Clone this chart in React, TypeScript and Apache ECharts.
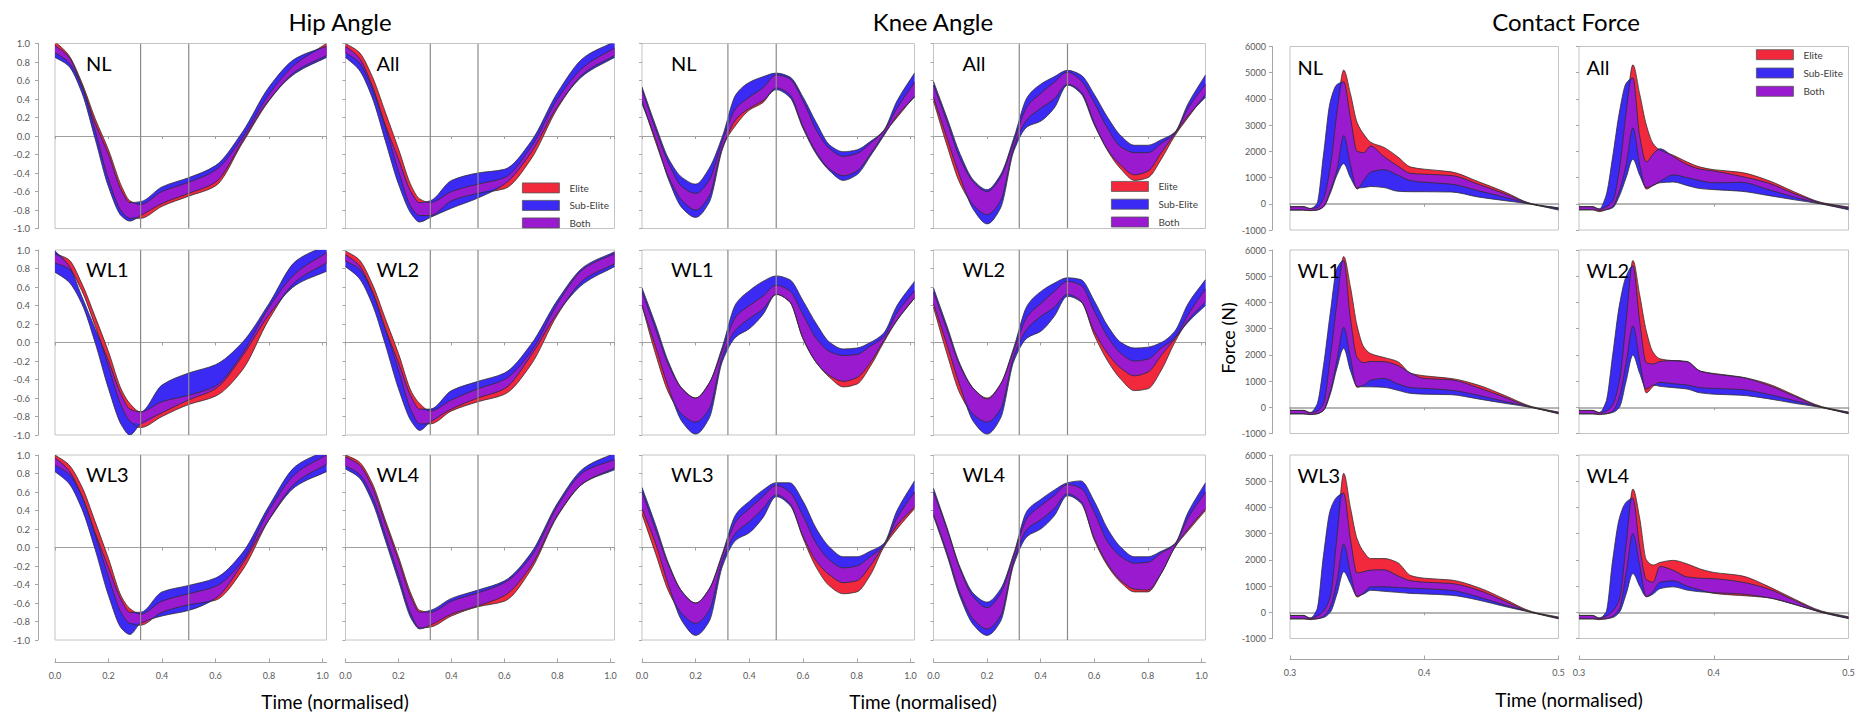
import React, { useEffect, useRef } from 'react';
import * as echarts from 'echarts';

// ---------- x grids ----------
const hipX = [0, 0.05, 0.1, 0.15, 0.2, 0.25, 0.28, 0.32, 0.4, 0.5, 0.6, 0.7, 0.8, 0.9, 1.015];
const kneeX = [0, 0.05, 0.1, 0.15, 0.2, 0.25, 0.3, 0.35, 0.4, 0.45, 0.5, 0.55, 0.6, 0.65, 0.7, 0.75, 0.8, 0.85, 0.9, 0.95, 1.015];
const forceX = [0.3, 0.31, 0.315, 0.32, 0.325, 0.33, 0.335, 0.34, 0.345, 0.35, 0.355, 0.36, 0.37, 0.38, 0.39, 0.4, 0.42, 0.44, 0.46, 0.48, 0.5];
const eventLines = [0.32, 0.5];
const legendNames = ['Elite', 'Sub-Elite', 'Both'];
const panelLabels = ['NL', 'All', 'WL1', 'WL2', 'WL3', 'WL4'];
const groupTitles = ['Hip Angle', 'Knee Angle', 'Contact Force'];

// ---------- Hip angle ----------
const hipNL_eHi = [1.02, 0.88, 0.58, 0.19, -0.15, -0.55, -0.70, -0.74, -0.60, -0.50, -0.37, -0.02, 0.45, 0.78, 1.0];
const hipNL_eLo = [0.90, 0.80, 0.54, 0.06, -0.47, -0.82, -0.89, -0.89, -0.76, -0.65, -0.54, -0.08, 0.38, 0.70, 0.87];
const hipNL_sHi = [0.98, 0.86, 0.55, 0.14, -0.20, -0.60, -0.72, -0.71, -0.55, -0.45, -0.32, 0.04, 0.53, 0.84, 0.97];
const hipNL_sLo = [0.85, 0.76, 0.47, -0.03, -0.55, -0.87, -0.92, -0.86, -0.73, -0.62, -0.50, -0.06, 0.39, 0.68, 0.85];

const hipAll_eHi = [1.00, 0.91, 0.65, 0.26, -0.14, -0.55, -0.68, -0.72, -0.60, -0.52, -0.45, -0.12, 0.40, 0.75, 0.95];
const hipAll_eLo = [0.90, 0.80, 0.52, 0.10, -0.38, -0.78, -0.86, -0.86, -0.70, -0.62, -0.57, -0.25, 0.30, 0.68, 0.87];
const hipAll_sHi = [0.97, 0.85, 0.55, 0.12, -0.25, -0.62, -0.72, -0.70, -0.48, -0.40, -0.36, -0.06, 0.47, 0.85, 1.02];
const hipAll_sLo = [0.85, 0.72, 0.42, -0.05, -0.52, -0.85, -0.93, -0.88, -0.78, -0.67, -0.52, -0.18, 0.32, 0.66, 0.85];

const hipWL1_eHi = [0.96, 0.90, 0.64, 0.28, -0.10, -0.52, -0.66, -0.75, -0.64, -0.57, -0.47, -0.12, 0.38, 0.75, 0.97];
const hipWL1_eLo = [0.86, 0.80, 0.56, 0.18, -0.26, -0.70, -0.85, -0.92, -0.80, -0.67, -0.58, -0.30, 0.25, 0.66, 0.86];
const hipWL1_sHi = [0.99, 0.84, 0.50, 0.15, -0.20, -0.58, -0.72, -0.75, -0.46, -0.33, -0.24, 0.00, 0.42, 0.88, 1.05];
const hipWL1_sLo = [0.76, 0.66, 0.42, 0.00, -0.50, -0.90, -1.00, -0.88, -0.76, -0.62, -0.50, -0.15, 0.30, 0.62, 0.77];

const hipWL2_eHi = [0.99, 0.90, 0.64, 0.26, -0.12, -0.54, -0.66, -0.74, -0.62, -0.50, -0.40, -0.10, 0.42, 0.80, 0.96];
const hipWL2_eLo = [0.88, 0.80, 0.55, 0.15, -0.30, -0.75, -0.88, -0.88, -0.74, -0.64, -0.56, -0.24, 0.30, 0.68, 0.85];
const hipWL2_sHi = [0.95, 0.84, 0.56, 0.15, -0.22, -0.60, -0.72, -0.72, -0.52, -0.42, -0.33, -0.02, 0.46, 0.82, 0.98];
const hipWL2_sLo = [0.82, 0.70, 0.42, -0.02, -0.50, -0.86, -0.95, -0.86, -0.72, -0.60, -0.50, -0.14, 0.32, 0.64, 0.82];

const hipWL3_eHi = [1.00, 0.90, 0.66, 0.28, -0.12, -0.54, -0.66, -0.72, -0.58, -0.50, -0.42, -0.15, 0.40, 0.80, 1.00];
const hipWL3_eLo = [0.89, 0.80, 0.56, 0.14, -0.32, -0.72, -0.82, -0.84, -0.70, -0.62, -0.57, -0.25, 0.30, 0.70, 0.90];
const hipWL3_sHi = [0.97, 0.84, 0.56, 0.16, -0.22, -0.58, -0.70, -0.70, -0.48, -0.41, -0.33, -0.06, 0.45, 0.88, 1.05];
const hipWL3_sLo = [0.82, 0.70, 0.42, -0.02, -0.52, -0.88, -0.94, -0.82, -0.74, -0.68, -0.55, -0.18, 0.30, 0.66, 0.82];

const hipWL4_eHi = [1.00, 0.93, 0.70, 0.30, -0.10, -0.52, -0.68, -0.70, -0.58, -0.49, -0.38, -0.10, 0.45, 0.82, 0.95];
const hipWL4_eLo = [0.88, 0.80, 0.56, 0.14, -0.30, -0.74, -0.87, -0.86, -0.74, -0.64, -0.58, -0.24, 0.34, 0.70, 0.86];
const hipWL4_sHi = [0.98, 0.90, 0.66, 0.26, -0.14, -0.56, -0.70, -0.68, -0.55, -0.46, -0.36, -0.06, 0.48, 0.86, 1.02];
const hipWL4_sLo = [0.85, 0.76, 0.50, 0.08, -0.36, -0.78, -0.88, -0.84, -0.72, -0.63, -0.52, -0.20, 0.35, 0.70, 0.84];

// ---------- Knee angle ----------
const kneeNL_eHi = [0.50, 0.08, -0.30, -0.55, -0.62, -0.48, -0.05, 0.30, 0.42, 0.52, 0.66, 0.62, 0.38, 0.06, -0.14, -0.22, -0.19, -0.08, 0.05, 0.30, 0.58];
const kneeNL_eLo = [0.38, -0.06, -0.45, -0.70, -0.80, -0.65, -0.12, 0.12, 0.28, 0.36, 0.52, 0.45, 0.10, -0.18, -0.36, -0.43, -0.38, -0.20, 0.02, 0.20, 0.43];
const kneeNL_sHi = [0.53, 0.12, -0.25, -0.45, -0.52, -0.35, 0.00, 0.45, 0.58, 0.64, 0.68, 0.64, 0.42, 0.14, -0.10, -0.17, -0.15, -0.06, 0.06, 0.38, 0.68];
const kneeNL_sLo = [0.35, -0.03, -0.48, -0.78, -0.88, -0.72, -0.14, 0.18, 0.30, 0.38, 0.50, 0.42, 0.08, -0.20, -0.38, -0.48, -0.42, -0.22, 0.00, 0.22, 0.42];

const kneeAll_eHi = [0.55, 0.16, -0.25, -0.50, -0.60, -0.45, -0.06, 0.32, 0.46, 0.58, 0.69, 0.60, 0.36, 0.08, -0.12, -0.18, -0.18, -0.08, 0.03, 0.30, 0.56];
const kneeAll_eLo = [0.38, -0.10, -0.52, -0.75, -0.85, -0.70, -0.12, 0.18, 0.30, 0.40, 0.56, 0.48, 0.14, -0.16, -0.36, -0.48, -0.45, -0.25, 0.00, 0.20, 0.45];
const kneeAll_sHi = [0.59, 0.20, -0.20, -0.48, -0.58, -0.42, -0.02, 0.42, 0.56, 0.64, 0.71, 0.66, 0.45, 0.20, 0.00, -0.10, -0.10, -0.04, 0.04, 0.35, 0.66];
const kneeAll_sLo = [0.42, -0.02, -0.45, -0.80, -0.95, -0.78, -0.16, 0.10, 0.16, 0.30, 0.55, 0.46, 0.12, -0.15, -0.32, -0.42, -0.38, -0.18, 0.02, 0.22, 0.42];

const kneeWL1_eHi = [0.55, 0.15, -0.25, -0.50, -0.60, -0.44, -0.08, 0.28, 0.40, 0.50, 0.62, 0.56, 0.30, 0.04, -0.10, -0.14, -0.13, -0.04, 0.06, 0.32, 0.56];
const kneeWL1_eLo = [0.40, -0.12, -0.55, -0.78, -0.86, -0.72, -0.15, 0.14, 0.26, 0.36, 0.52, 0.44, 0.04, -0.22, -0.38, -0.48, -0.45, -0.26, 0.00, 0.24, 0.48];
const kneeWL1_sHi = [0.59, 0.20, -0.22, -0.50, -0.60, -0.44, -0.04, 0.42, 0.56, 0.66, 0.72, 0.68, 0.45, 0.20, 0.00, -0.07, -0.06, 0.00, 0.10, 0.40, 0.66];
const kneeWL1_sLo = [0.40, -0.04, -0.50, -0.86, -0.99, -0.82, -0.20, 0.06, 0.15, 0.30, 0.52, 0.44, 0.04, -0.22, -0.36, -0.42, -0.38, -0.22, 0.02, 0.24, 0.48];

const kneeWL2_eHi = [0.55, 0.14, -0.26, -0.50, -0.60, -0.45, -0.08, 0.28, 0.42, 0.55, 0.66, 0.62, 0.34, 0.06, -0.12, -0.20, -0.18, -0.06, 0.05, 0.30, 0.58];
const kneeWL2_eLo = [0.38, -0.12, -0.56, -0.78, -0.86, -0.72, -0.15, 0.15, 0.28, 0.38, 0.52, 0.45, 0.08, -0.20, -0.40, -0.52, -0.50, -0.30, 0.00, 0.24, 0.44];
const kneeWL2_sHi = [0.59, 0.18, -0.24, -0.50, -0.61, -0.45, -0.05, 0.40, 0.55, 0.64, 0.70, 0.68, 0.45, 0.18, 0.00, -0.06, -0.05, 0.00, 0.12, 0.42, 0.68];
const kneeWL2_sLo = [0.42, -0.02, -0.48, -0.86, -0.99, -0.82, -0.20, 0.05, 0.12, 0.28, 0.50, 0.44, 0.12, -0.12, -0.28, -0.36, -0.32, -0.14, 0.04, 0.22, 0.40];

const kneeWL3_eHi = [0.60, 0.20, -0.20, -0.48, -0.60, -0.45, -0.08, 0.28, 0.42, 0.55, 0.67, 0.60, 0.34, 0.04, -0.14, -0.22, -0.20, -0.10, 0.02, 0.32, 0.60];
const kneeWL3_eLo = [0.36, -0.06, -0.48, -0.72, -0.82, -0.68, -0.14, 0.16, 0.28, 0.42, 0.57, 0.48, 0.10, -0.22, -0.42, -0.50, -0.48, -0.30, 0.00, 0.20, 0.42];
const kneeWL3_sHi = [0.65, 0.25, -0.18, -0.48, -0.60, -0.45, -0.06, 0.36, 0.50, 0.62, 0.70, 0.70, 0.50, 0.20, 0.00, -0.10, -0.10, -0.04, 0.04, 0.40, 0.72];
const kneeWL3_sLo = [0.42, 0.05, -0.42, -0.80, -0.95, -0.80, -0.20, 0.08, 0.16, 0.32, 0.55, 0.46, 0.12, -0.15, -0.30, -0.38, -0.36, -0.20, 0.02, 0.24, 0.44];

const kneeWL4_eHi = [0.60, 0.20, -0.24, -0.54, -0.65, -0.50, -0.08, 0.32, 0.45, 0.56, 0.68, 0.64, 0.38, 0.06, -0.10, -0.17, -0.16, -0.06, 0.03, 0.32, 0.60];
const kneeWL4_eLo = [0.36, -0.05, -0.50, -0.78, -0.88, -0.74, -0.14, 0.20, 0.30, 0.42, 0.58, 0.50, 0.08, -0.20, -0.38, -0.48, -0.48, -0.28, 0.00, 0.18, 0.40];
const kneeWL4_sHi = [0.64, 0.22, -0.22, -0.50, -0.59, -0.45, -0.06, 0.40, 0.52, 0.62, 0.70, 0.72, 0.50, 0.20, 0.00, -0.10, -0.10, -0.04, 0.04, 0.38, 0.70];
const kneeWL4_sLo = [0.34, -0.08, -0.54, -0.84, -0.95, -0.80, -0.18, 0.12, 0.20, 0.34, 0.56, 0.48, 0.10, -0.18, -0.36, -0.45, -0.46, -0.28, 0.00, 0.20, 0.42];

// ---------- Contact force (N) ----------
const forceNL_eHi = [-110, -110, -180, -150, 200, 1400, 3500, 5100, 4200, 3100, 2650, 2350, 2150, 1800, 1400, 1320, 1220, 850, 450, 0, -170];
const forceNL_eLo = [-240, -240, -260, -240, -100, 500, 1300, 2600, 1500, 560, 900, 1200, 1300, 1100, 880, 820, 750, 500, 250, -20, -200];
const forceNL_sHi = [-110, -110, -180, 0, 1900, 3900, 4550, 4650, 3300, 2000, 1950, 2200, 1800, 1450, 1160, 1130, 1080, 750, 380, 0, -150];
const forceNL_sLo = [-240, -240, -260, -240, -120, 400, 1100, 1530, 1000, 600, 620, 660, 620, 480, 460, 460, 450, 260, 120, -20, -240];

const forceAll_eHi = [-110, -110, -200, -120, 100, 1300, 3500, 5300, 4200, 3000, 2300, 2050, 1850, 1600, 1400, 1300, 1200, 900, 450, 50, -120];
const forceAll_eLo = [-230, -230, -300, -230, -100, 500, 1500, 2900, 1500, 560, 700, 850, 1100, 1000, 880, 800, 820, 550, 250, 0, -200];
const forceAll_sHi = [-110, -110, -200, 300, 1800, 3500, 4600, 4800, 2600, 1600, 1900, 2100, 1800, 1500, 1320, 1250, 1050, 800, 380, 30, -150];
const forceAll_sLo = [-230, -230, -250, -230, -150, 300, 1000, 1700, 1100, 620, 700, 800, 830, 700, 580, 540, 480, 320, 150, -10, -230];

const forceWL1_eHi = [-120, -120, -200, -150, 150, 1900, 4000, 5750, 4600, 3100, 2300, 2050, 1900, 1750, 1300, 1200, 1100, 850, 450, 30, -180];
const forceWL1_eLo = [-250, -250, -280, -250, -100, 600, 1800, 3050, 1900, 760, 850, 1030, 1100, 900, 750, 720, 650, 460, 220, 0, -230];
const forceWL1_sHi = [-120, -120, -200, 100, 1600, 3600, 5300, 5600, 3400, 1900, 1700, 1750, 1740, 1600, 1300, 1100, 1050, 750, 380, 0, -200];
const forceWL1_sLo = [-250, -250, -270, -250, -120, 500, 1500, 2250, 1400, 800, 780, 780, 760, 650, 530, 500, 480, 320, 150, -10, -250];

const forceWL2_eHi = [-120, -120, -200, -150, 100, 1000, 3300, 5600, 4300, 2900, 2100, 1850, 1780, 1750, 1380, 1290, 1160, 900, 460, 30, -180];
const forceWL2_eLo = [-250, -250, -280, -250, -150, 400, 1700, 3100, 1800, 550, 800, 950, 900, 850, 750, 720, 680, 500, 250, 0, -230];
const forceWL2_sHi = [-120, -120, -200, 200, 2000, 3900, 5000, 5400, 3300, 1700, 1650, 1750, 1780, 1740, 1380, 1270, 1150, 850, 420, 0, -200];
const forceWL2_sLo = [-250, -250, -260, -250, -200, 0, 1000, 1990, 1300, 700, 850, 800, 750, 700, 550, 500, 460, 330, 150, -10, -250];

const forceWL3_eHi = [-120, -120, -220, -150, 50, 600, 2900, 5300, 4000, 2800, 2300, 2050, 2050, 1900, 1400, 1300, 1230, 950, 500, 30, -180];
const forceWL3_eLo = [-250, -250, -280, -250, -150, 200, 1200, 2600, 1500, 580, 750, 970, 970, 950, 920, 900, 840, 590, 280, 0, -230];
const forceWL3_sHi = [-120, -120, -220, 100, 2200, 3900, 4400, 4540, 2800, 1500, 1550, 1610, 1620, 1400, 1200, 1150, 1100, 850, 420, 0, -200];
const forceWL3_sLo = [-250, -250, -260, -250, -200, 0, 700, 1550, 1100, 620, 700, 840, 800, 760, 720, 700, 650, 470, 220, -10, -250];

const forceWL4_eHi = [-120, -120, -220, -150, 50, 500, 2600, 4700, 3600, 2000, 1800, 1900, 1980, 1850, 1650, 1520, 1400, 1000, 500, 50, -170];
const forceWL4_eLo = [-250, -250, -280, -250, -150, 150, 1500, 3000, 1800, 600, 800, 1150, 1200, 1000, 850, 720, 640, 560, 300, 0, -230];
const forceWL4_sHi = [-120, -120, -220, 0, 2000, 3600, 4200, 4350, 2500, 1250, 1150, 1750, 1600, 1350, 1300, 1280, 1160, 900, 450, 20, -190];
const forceWL4_sLo = [-250, -250, -260, -250, -200, 0, 700, 1480, 1000, 590, 700, 900, 970, 850, 780, 750, 700, 560, 300, -10, -240];

// ---------- layout / style ----------
const RED = '#F2283C';
const BLUE = '#3B2AF3';
const PURPLE = '#9A1AD0';
const EDGE = '#2e2e2e';
const FONT = 'Lato';
const COLS: [number, number][] = [[55, 271.5], [345.5, 269], [642, 272.5], [933.5, 272], [1290, 268.5], [1579, 269.5]];
const ROWS_A: [number, number][] = [[43.5, 185], [250, 185], [455, 185]];
const ROWS_F: [number, number][] = [[46.5, 183.5], [250, 183.5], [455, 183.5]];

type Kind = 'hip' | 'knee' | 'force';
type Panel = { kind: Kind; col: number; row: number; label: string; eHi: number[]; eLo: number[]; sHi: number[]; sLo: number[] };

const panels: Panel[] = [
  { kind: 'hip', col: 0, row: 0, label: panelLabels[0], eHi: hipNL_eHi, eLo: hipNL_eLo, sHi: hipNL_sHi, sLo: hipNL_sLo },
  { kind: 'hip', col: 1, row: 0, label: panelLabels[1], eHi: hipAll_eHi, eLo: hipAll_eLo, sHi: hipAll_sHi, sLo: hipAll_sLo },
  { kind: 'hip', col: 0, row: 1, label: panelLabels[2], eHi: hipWL1_eHi, eLo: hipWL1_eLo, sHi: hipWL1_sHi, sLo: hipWL1_sLo },
  { kind: 'hip', col: 1, row: 1, label: panelLabels[3], eHi: hipWL2_eHi, eLo: hipWL2_eLo, sHi: hipWL2_sHi, sLo: hipWL2_sLo },
  { kind: 'hip', col: 0, row: 2, label: panelLabels[4], eHi: hipWL3_eHi, eLo: hipWL3_eLo, sHi: hipWL3_sHi, sLo: hipWL3_sLo },
  { kind: 'hip', col: 1, row: 2, label: panelLabels[5], eHi: hipWL4_eHi, eLo: hipWL4_eLo, sHi: hipWL4_sHi, sLo: hipWL4_sLo },
  { kind: 'knee', col: 2, row: 0, label: panelLabels[0], eHi: kneeNL_eHi, eLo: kneeNL_eLo, sHi: kneeNL_sHi, sLo: kneeNL_sLo },
  { kind: 'knee', col: 3, row: 0, label: panelLabels[1], eHi: kneeAll_eHi, eLo: kneeAll_eLo, sHi: kneeAll_sHi, sLo: kneeAll_sLo },
  { kind: 'knee', col: 2, row: 1, label: panelLabels[2], eHi: kneeWL1_eHi, eLo: kneeWL1_eLo, sHi: kneeWL1_sHi, sLo: kneeWL1_sLo },
  { kind: 'knee', col: 3, row: 1, label: panelLabels[3], eHi: kneeWL2_eHi, eLo: kneeWL2_eLo, sHi: kneeWL2_sHi, sLo: kneeWL2_sLo },
  { kind: 'knee', col: 2, row: 2, label: panelLabels[4], eHi: kneeWL3_eHi, eLo: kneeWL3_eLo, sHi: kneeWL3_sHi, sLo: kneeWL3_sLo },
  { kind: 'knee', col: 3, row: 2, label: panelLabels[5], eHi: kneeWL4_eHi, eLo: kneeWL4_eLo, sHi: kneeWL4_sHi, sLo: kneeWL4_sLo },
  { kind: 'force', col: 4, row: 0, label: panelLabels[0], eHi: forceNL_eHi, eLo: forceNL_eLo, sHi: forceNL_sHi, sLo: forceNL_sLo },
  { kind: 'force', col: 5, row: 0, label: panelLabels[1], eHi: forceAll_eHi, eLo: forceAll_eLo, sHi: forceAll_sHi, sLo: forceAll_sLo },
  { kind: 'force', col: 4, row: 1, label: panelLabels[2], eHi: forceWL1_eHi, eLo: forceWL1_eLo, sHi: forceWL1_sHi, sLo: forceWL1_sLo },
  { kind: 'force', col: 5, row: 1, label: panelLabels[3], eHi: forceWL2_eHi, eLo: forceWL2_eLo, sHi: forceWL2_sHi, sLo: forceWL2_sLo },
  { kind: 'force', col: 4, row: 2, label: panelLabels[4], eHi: forceWL3_eHi, eLo: forceWL3_eLo, sHi: forceWL3_sHi, sLo: forceWL3_sLo },
  { kind: 'force', col: 5, row: 2, label: panelLabels[5], eHi: forceWL4_eHi, eLo: forceWL4_eLo, sHi: forceWL4_sHi, sLo: forceWL4_sLo },
];

// Smooth (monotone cubic) SVG path through pixel points, x monotonic.
function curvePath(P: number[][], move: boolean): string {
  const n = P.length;
  let d = (move ? 'M' : 'L') + P[0][0].toFixed(2) + ' ' + P[0][1].toFixed(2);
  if (n < 2) return d;
  const dx: number[] = [];
  const m: number[] = [];
  for (let i = 0; i < n - 1; i++) {
    dx[i] = P[i + 1][0] - P[i][0];
    m[i] = (P[i + 1][1] - P[i][1]) / dx[i];
  }
  const t: number[] = new Array(n);
  t[0] = m[0];
  t[n - 1] = m[n - 2];
  for (let i = 1; i < n - 1; i++) {
    if (m[i - 1] * m[i] <= 0) t[i] = 0;
    else {
      const w1 = 2 * dx[i] + dx[i - 1];
      const w2 = dx[i] + 2 * dx[i - 1];
      t[i] = (w1 + w2) / (w1 / m[i - 1] + w2 / m[i]);
    }
  }
  for (let i = 0; i < n - 1; i++) {
    const h = dx[i];
    const c1x = P[i][0] + h / 3, c1y = P[i][1] + (t[i] * h) / 3;
    const c2x = P[i + 1][0] - h / 3, c2y = P[i + 1][1] - (t[i + 1] * h) / 3;
    d += ` C${c1x.toFixed(2)} ${c1y.toFixed(2)} ${c2x.toFixed(2)} ${c2y.toFixed(2)} ${P[i + 1][0].toFixed(2)} ${P[i + 1][1].toFixed(2)}`;
  }
  return d;
}

function buildOption() {
  const grid: any[] = [];
  const xAxis: any[] = [];
  const yAxis: any[] = [];
  const series: any[] = [];
  const graphic: any[] = [];

  panels.forEach((p, i) => {
    const isForce = p.kind === 'force';
    const [left, width] = COLS[p.col];
    const [top, height] = isForce ? ROWS_F[p.row] : ROWS_A[p.row];
    const xs = p.kind === 'hip' ? hipX : p.kind === 'knee' ? kneeX : forceX;
    const xMin = isForce ? 0.3 : 0;
    const xMax = isForce ? 0.5 : 1.015;
    const xInt = isForce ? 0.1 : 0.2;
    const yMin = isForce ? -1000 : -1;
    const yMax = isForce ? 6000 : 1;
    const yInt = isForce ? 1000 : 0.2;

    grid.push({ left, top, width, height, show: true, borderColor: '#C4C4C4', borderWidth: 1, backgroundColor: '#fff' });

    const mainX = xAxis.length;
    xAxis.push({
      type: 'value', gridIndex: i, min: xMin, max: xMax, interval: xInt,
      axisLine: { show: true, onZero: true, lineStyle: { color: isForce ? '#B5B5B5' : '#A0A0A0', width: isForce ? 2 : 1 } },
      axisTick: { show: true, length: 3, lineStyle: { color: '#A0A0A0' } },
      axisLabel: { show: false }, splitLine: { show: false },
    });
    if (p.row === 2) {
      xAxis.push({
        type: 'value', gridIndex: i, position: 'bottom', offset: isForce ? 21 : 22.5,
        min: xMin, max: xMax, interval: xInt,
        axisLine: { show: true, onZero: false, lineStyle: { color: '#A6A6A6' } },
        axisTick: { show: true, inside: true, length: 4, lineStyle: { color: '#A6A6A6' } },
        axisLabel: {
          show: true, fontSize: 9, color: '#595959', margin: 8, fontFamily: FONT,
          showMaxLabel: isForce, formatter: (v: number) => v.toFixed(1),
        },
        splitLine: { show: false },
      });
    }
    const showLabels = p.col === 0 || p.col === 4;
    yAxis.push({
      type: 'value', gridIndex: i, min: yMin, max: yMax, interval: yInt,
      offset: showLabels ? (isForce ? 18 : 17) : 0,
      axisLine: { show: showLabels, onZero: false, lineStyle: { color: '#A6A6A6' } },
      axisTick: { show: true, length: 3, lineStyle: { color: '#A6A6A6' } },
      axisLabel: {
        show: showLabels, fontSize: isForce ? 9 : 9.5, color: '#595959', margin: isForce ? 6 : 8, fontFamily: FONT,
        formatter: isForce ? (v: number) => String(Math.round(v)) : (v: number) => v.toFixed(1),
      },
      splitLine: { show: false },
    });

    const ovLo = xs.map((_, k) => Math.max(p.eLo[k], p.sLo[k]));
    const ovHi = xs.map((_, k) => Math.max(Math.min(p.eHi[k], p.sHi[k]), ovLo[k]));
    const common = {
      type: 'custom', xAxisIndex: mainX, yAxisIndex: i, silent: true, animation: false, clip: true,
      data: [[xMin, 0]],
    };
    const toPx = (api: any, arr: number[]) => xs.map((x, k) => api.coord([x, arr[k]]));
    const band = (name: string, lo: number[], hi: number[], color: string) => ({
      ...common, name, itemStyle: { color },
      renderItem: (_params: any, api: any) => {
        const up = toPx(api, hi);
        const dn = toPx(api, lo).reverse();
        return { type: 'path', shape: { pathData: curvePath(up, true) + ' ' + curvePath(dn, false) + ' Z' }, style: { fill: color, stroke: 'none' } };
      },
    });
    series.push(
      band(legendNames[0], p.eLo, p.eHi, RED),
      band(legendNames[1], p.sLo, p.sHi, BLUE),
      band(legendNames[2], ovLo, ovHi, PURPLE),
    );
    series.push({
      ...common, name: 'edges',
      renderItem: (_params: any, api: any) => {
        const children: any[] = [p.eHi, p.eLo, p.sHi, p.sLo].map((arr) => ({
          type: 'path', shape: { pathData: curvePath(toPx(api, arr), true) },
          style: { fill: 'none', stroke: EDGE, lineWidth: 0.8 },
        }));
        if (!isForce) {
          eventLines.forEach((v) => {
            const a = api.coord([v, yMin]);
            const b = api.coord([v, yMax]);
            children.push({ type: 'line', shape: { x1: a[0], y1: a[1], x2: b[0], y2: b[1] }, style: { stroke: '#8A8A8A', lineWidth: 1.2 } });
          });
        }
        return { type: 'group', children };
      },
    });

    const lblOffset = p.kind === 'hip' ? 31 : p.kind === 'knee' ? 29 : 7.5;
    graphic.push({
      type: 'text', x: left + lblOffset, y: top + (isForce ? 20 : 19), silent: true, z: 100,
      style: { text: p.label, fontSize: 20, fontFamily: FONT, fill: '#000', textAlign: 'left', textVerticalAlign: 'middle' },
    });
  });

  const titlePos = [[340, 21.5], [933, 21.5], [1566, 21]];
  groupTitles.forEach((t, k) => {
    graphic.push({
      type: 'text', x: titlePos[k][0], y: titlePos[k][1], silent: true,
      style: { text: t, fontSize: 24, fontFamily: FONT, fill: '#000', textAlign: 'center', textVerticalAlign: 'middle' },
    });
  });
  const timePos = [[335, 701], [923, 701], [1569, 699]];
  timePos.forEach(([x, y]) => {
    graphic.push({
      type: 'text', x, y, silent: true,
      style: { text: 'Time (normalised)', fontSize: 19, fontFamily: FONT, fill: '#000', textAlign: 'center', textVerticalAlign: 'middle' },
    });
  });
  graphic.push({
    type: 'text', x: 1228, y: 338, rotation: Math.PI / 2, silent: true,
    style: { text: 'Force (N)', fontSize: 18, fontFamily: FONT, fill: '#000', textAlign: 'center', textVerticalAlign: 'middle' },
  });

  const legendColors = [RED, BLUE, PURPLE];
  const legendBase = (left: number, top: number, gap: number) => ({
    left, top, orient: 'vertical', itemWidth: 37, itemHeight: 10, itemGap: gap, icon: 'rect',
    selectedMode: false, padding: 0,
    textStyle: { fontSize: 10, color: '#404040', fontFamily: FONT, lineHeight: 10, padding: [0, 0, 0, 5] },
    data: legendNames.map((n, k) => ({ name: n, itemStyle: { color: legendColors[k], borderColor: '#555', borderWidth: 0.8 } })),
  });

  return {
    animation: false,
    backgroundColor: '#fff',
    textStyle: { fontFamily: FONT },
    grid, xAxis, yAxis, series, graphic,
    legend: [legendBase(522, 182.5, 6.7), legendBase(1111, 181, 7), legendBase(1756, 49.3, 7.5)],
  };
}

export default function App() {
  const ref = useRef<HTMLDivElement>(null);
  useEffect(() => {
    document.body.style.margin = '0';
    document.body.style.overflow = 'hidden';
    const chart = echarts.init(ref.current as HTMLDivElement, null, { renderer: 'svg' });
    chart.setOption(buildOption() as any);
    return () => chart.dispose();
  }, []);
  return <div ref={ref} style={{ width: 1861, height: 714 }} />;
}
